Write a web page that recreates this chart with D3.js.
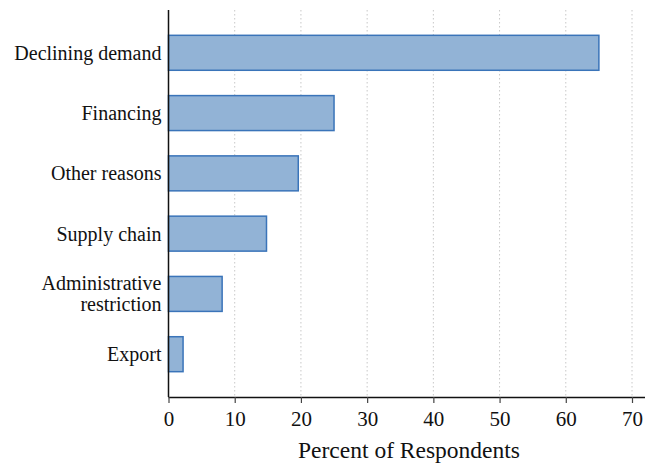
<!DOCTYPE html>
<html>
<head>
<meta charset="utf-8">
<script src="https://cdn.jsdelivr.net/npm/d3@7"></script>
<style>
  body { margin: 0; background: #fff; }
  text { font-family: "Liberation Serif", "DejaVu Serif", serif; fill: #111; }
</style>
</head>
<body>
<script>
const categories = ["Declining demand", "Financing", "Other reasons", "Supply chain", "Administrative\nrestriction", "Export"];
const values = [65, 25, 19.6, 14.8, 8.1, 2.2];
const xTicks = [0, 10, 20, 30, 40, 50, 60, 70];
const xLabel = "Percent of Respondents";

const width = 645, height = 464;
const margin = {top: 10, right: 13, bottom: 67, left: 168.5};

const svg = d3.select("body").append("svg")
    .attr("width", width)
    .attr("height", height);

const x = d3.scaleLinear()
    .domain([0, 70])
    .range([margin.left, 632]);

const y = d3.scaleBand()
    .domain(categories)
    .range([margin.top, height - margin.bottom])
    .paddingInner(0.42)
    .paddingOuter(0.42);

// dotted gridlines
svg.append("g")
  .selectAll("line")
  .data(xTicks.filter(d => d > 0))
  .enter().append("line")
    .attr("x1", d => x(d)).attr("x2", d => x(d))
    .attr("y1", margin.top).attr("y2", height - margin.bottom)
    .attr("stroke", "#c8c8c8")
    .attr("stroke-width", 1)
    .attr("stroke-dasharray", "1.5,2.5");

// bars
svg.append("g")
  .selectAll("rect")
  .data(values)
  .enter().append("rect")
    .attr("x", x(0))
    .attr("y", (d, i) => y(categories[i]))
    .attr("width", d => x(d) - x(0))
    .attr("height", y.bandwidth())
    .attr("fill", "#92b3d6")
    .attr("stroke", "#3a74b9")
    .attr("stroke-width", 1.5);

// x axis
const xAxis = svg.append("g")
    .attr("transform", `translate(0,${height - margin.bottom})`)
    .call(d3.axisBottom(x).tickValues(xTicks).tickSize(6).tickSizeOuter(0));
xAxis.select(".domain").attr("d", `M${margin.left},0.5H${width}`).attr("stroke", "#111").attr("stroke-width", 1.5);
xAxis.selectAll(".tick line").attr("stroke", "#444").attr("stroke-width", 1.2);
xAxis.selectAll(".tick text")
    .attr("dy", "1em")
    .attr("y", 8)
    .style("font-size", "21px")
    .style("font-family", "Liberation Serif, serif")
    .attr("fill", "#111");

// y axis (line only)
svg.append("line")
    .attr("x1", x(0)).attr("x2", x(0))
    .attr("y1", margin.top).attr("y2", height - margin.bottom)
    .attr("stroke", "#111")
    .attr("stroke-width", 1.5);

// category labels
const labels = svg.append("g")
  .selectAll("text")
  .data(categories)
  .enter().append("text")
    .attr("text-anchor", "end")
    .style("font-size", "20px")
    .attr("transform", d => `translate(${x(0) - 7},${y(d) + y.bandwidth() / 2})`);

labels.each(function(d) {
  const lines = d.split("\n");
  const t = d3.select(this);
  lines.forEach((l, i) => {
    t.append("tspan")
      .attr("x", 0)
      .attr("y", (i - (lines.length - 1) / 2) * 21)
      .attr("dy", "0.35em")
      .text(l);
  });
});

// axis title
svg.append("text")
    .attr("x", 409)
    .attr("y", 458)
    .attr("text-anchor", "middle")
    .style("font-size", "23.5px")
    .text(xLabel);
</script>
</body>
</html>
